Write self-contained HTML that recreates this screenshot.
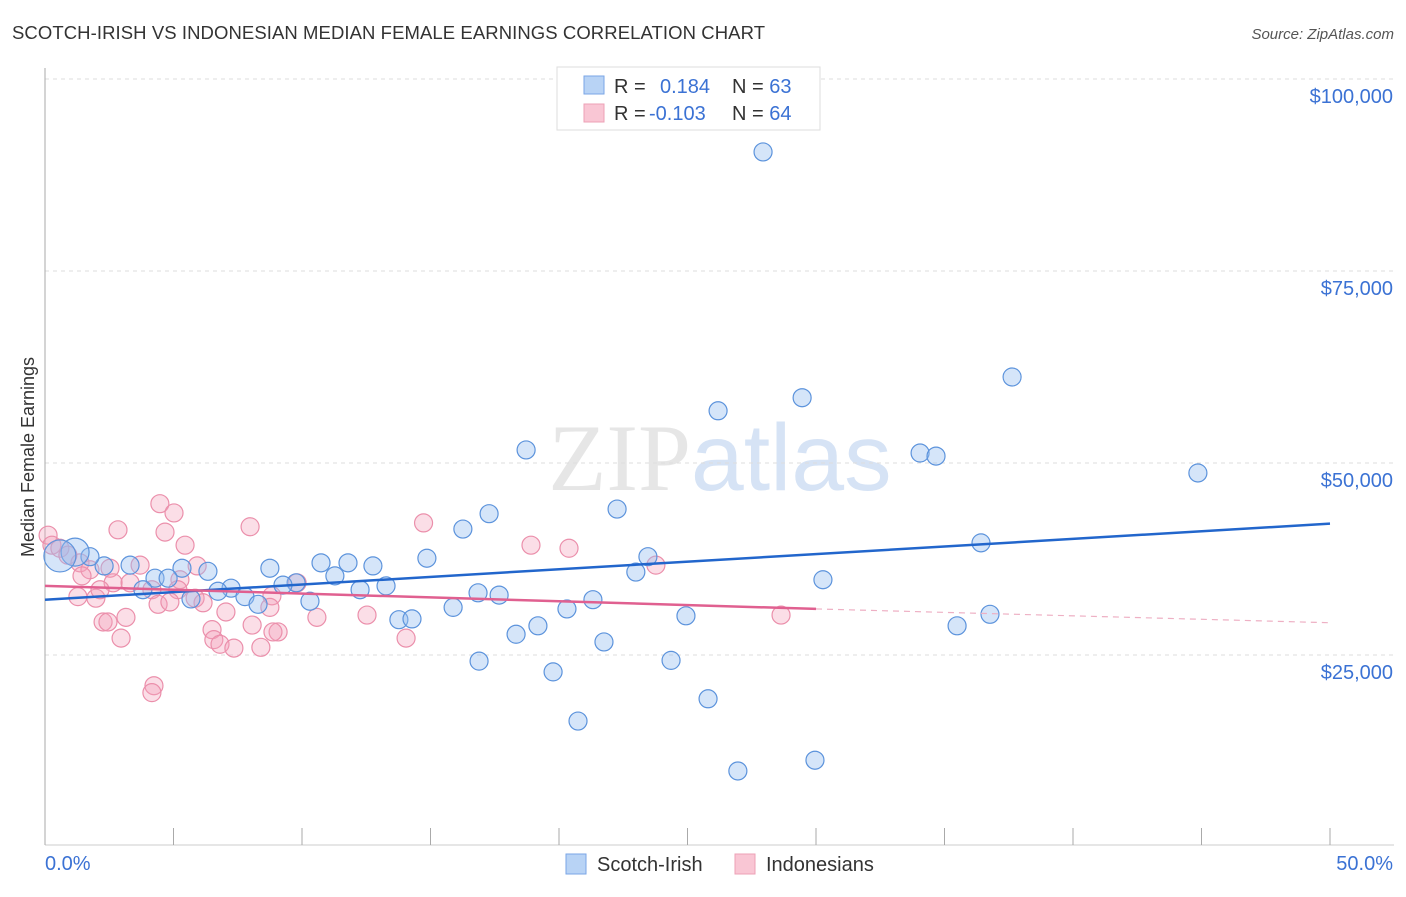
<!DOCTYPE html>
<html><head><meta charset="utf-8"><style>
body{margin:0;background:#fff;font-family:"Liberation Sans",sans-serif}
</style></head><body>
<svg width="1406" height="892" xmlns="http://www.w3.org/2000/svg" id="svg">
<text x="12" y="39" font-size="18.5" fill="#333" textLength="753">SCOTCH-IRISH VS INDONESIAN MEDIAN FEMALE EARNINGS CORRELATION CHART</text>
<text x="1394" y="39" font-size="15" fill="#555" text-anchor="end" font-style="italic">Source: ZipAtlas.com</text>
<text x="720" y="490" font-size="95" text-anchor="middle" fill="#e6e6e6" font-family="Liberation Serif">ZIP<tspan fill="#d6e3f5" font-family="Liberation Sans">atlas</tspan></text>
<g id="grid"></g><g id="pts"></g><g id="lines"></g>
<text transform="translate(34,457) rotate(-90)" font-size="18" fill="#333" text-anchor="middle">Median Female Earnings</text>
<text x="45" y="870" font-size="20" fill="#3b72d4">0.0%</text>
<text x="1393" y="870" font-size="20" fill="#3b72d4" text-anchor="end">50.0%</text>
<g>
<rect x="557" y="67" width="263" height="63" fill="#fff" stroke="#ddd"/>
<rect x="584" y="76" width="20" height="18" fill="#b8d3f5" stroke="#7aa6e6"/>
<rect x="584" y="104" width="20" height="18" fill="#f9c6d4" stroke="#eda0b6"/>
<text x="614" y="93" font-size="20" fill="#333">R = <tspan fill="#3b72d4" x="660">0.184</tspan><tspan x="732" fill="#333">N = </tspan><tspan fill="#3b72d4">63</tspan></text>
<text x="614" y="120" font-size="20" fill="#333">R = <tspan fill="#3b72d4" x="649">-0.103</tspan><tspan x="732" fill="#333">N = </tspan><tspan fill="#3b72d4">64</tspan></text>
</g>
<g>
<rect x="566" y="854" width="20" height="20" fill="#b8d3f5" stroke="#7aa6e6"/>
<text x="597" y="871" font-size="20" fill="#333">Scotch-Irish</text>
<rect x="735" y="854" width="20" height="20" fill="#f9c6d4" stroke="#eda0b6"/>
<text x="766" y="871" font-size="20" fill="#333">Indonesians</text>
</g>
</svg>
<script>
const yTicks=[25000,50000,75000,100000];
const yTickLabels=["$25,000","$50,000","$75,000","$100,000"];
const xTicks=[0,5,10,15,20,25,30,35,40,45,50];
const blueX=[27.94,37.63,29.46,26.19,18.72,34.05,34.67,44.86,22.26,17.28,16.26,36.42,14.86,23.46,22.99,30.27,10.74,11.79,12.76,8.75,6.34,5.33,3.31,2.30,1.75,1.17,0.58,11.28,13.27,9.77,9.26,7.24,6.73,4.28,4.79,3.81,5.68,7.78,8.29,10.31,12.26,16.85,17.67,15.88,20.31,21.32,13.77,14.28,24.94,36.77,19.18,18.33,35.49,21.75,16.89,24.36,19.77,25.80,20.74,26.96,29.96];
const blueY=[90500,61200,58500,56800,51700,51300,50900,48700,44000,43400,41400,39600,37600,37800,35800,34800,37000,37000,36600,36300,35900,36300,36700,36600,37800,38400,37900,35300,34000,34400,34100,33700,33300,35000,35000,33500,32300,32600,31600,32000,33500,33100,32800,31200,31000,32200,29600,29700,30100,30300,28800,27700,28800,26700,24200,24300,22800,19300,16400,9900,11300];
const blueR=[9,9,9,9,9,9,9,9,9,9,9,9,9,9,9,9,9,9,9,9,9,9,9,9,9,14,16,9,9,9,9,9,9,9,9,9,9,9,9,9,9,9,9,9,9,9,9,9,9,9,9,9,9,9,9,9,9,9,9,9,9];
const pinkX=[0.12,0.27,0.58,0.89,2.84,4.47,5.02,4.67,5.45,7.98,14.73,18.91,20.39,23.77,3.70,5.92,2.53,1.36,1.75,1.44,2.65,3.31,4.16,5.25,5.17,5.84,1.28,1.98,2.14,4.40,4.86,6.15,7.04,8.83,8.75,9.81,10.58,12.53,3.15,2.26,2.45,8.06,6.50,9.07,8.87,2.96,6.57,6.81,7.35,8.40,14.05,28.64,4.24,4.16];
const pinkY=[40600,39300,38900,38000,41300,44700,43500,41000,39300,41700,42200,39300,38900,36700,36700,36600,36300,37000,36100,35300,34400,34400,33500,34800,33500,32400,32600,32400,33500,31600,31900,31800,30600,32700,31200,34400,29900,30200,29900,29300,29300,28900,28300,28000,28000,27200,27000,26400,25900,26000,27200,30200,21000,20100];
const blueTrend=[[0,32200],[50,42100]];
const pinkTrend=[[0,34000],[30,31000],[50,29200]];
const X=v=>45+v/50*1285, Y=v=>847-v/25000*192;
const NS="http://www.w3.org/2000/svg";
function mk(t,a,p){const e=document.createElementNS(NS,t);for(const k in a)e.setAttribute(k,a[k]);p.appendChild(e);return e;}
const g=document.getElementById('grid');
yTicks.forEach((t,i)=>{
 const l=mk('line',{x1:45,x2:1394,y1:Y(t),y2:Y(t),stroke:'#ddd','stroke-dasharray':'4,4'},g);
 
 
 const tx=mk('text',{x:1393,y:Y(t)+24,'font-size':20,fill:'#3b72d4','text-anchor':'end'},g);
 
 
 tx.textContent=yTickLabels[i];
});
const ax=mk('line',{x1:45,x2:45,y1:68,y2:845,stroke:'#aaa'},g);


const bx=mk('line',{x1:45,x2:1394,y1:845,y2:845,stroke:'#ccc'},g);


xTicks.forEach(t=>{
 const l=mk('line',{x1:X(t),x2:X(t),y1:828,y2:845,stroke:'#aaa'},g);
 
 
});
const p=document.getElementById('pts');
pinkX.forEach((x,i)=>{
 const c=mk('circle',{cx:X(x),cy:Y(pinkY[i]),r:9,fill:'rgba(244,160,185,0.35)',stroke:'#eb8fab','stroke-width':1.2},p);
 
 
});
blueX.forEach((x,i)=>{
 const c=mk('circle',{cx:X(x),cy:Y(blueY[i]),r:blueR[i],fill:'rgba(150,190,240,0.4)',stroke:'#5c93dc','stroke-width':1.2},p);
 
 
});
const L=document.getElementById('lines');
const bl=mk('line',{x1:X(blueTrend[0][0]),y1:Y(blueTrend[0][1]),x2:X(blueTrend[1][0]),y2:Y(blueTrend[1][1]),stroke:'#2266cc','stroke-width':2.5},L);


const pl=mk('line',{x1:X(pinkTrend[0][0]),y1:Y(pinkTrend[0][1]),x2:X(pinkTrend[1][0]),y2:Y(pinkTrend[1][1]),stroke:'#e06090','stroke-width':2.5},L);


const pd=mk('line',{x1:X(pinkTrend[1][0]),y1:Y(pinkTrend[1][1]),x2:X(pinkTrend[2][0]),y2:Y(pinkTrend[2][1]),stroke:'#eeb0c4','stroke-width':1.2,'stroke-dasharray':'6,5'},L);


</script>
</body></html>
